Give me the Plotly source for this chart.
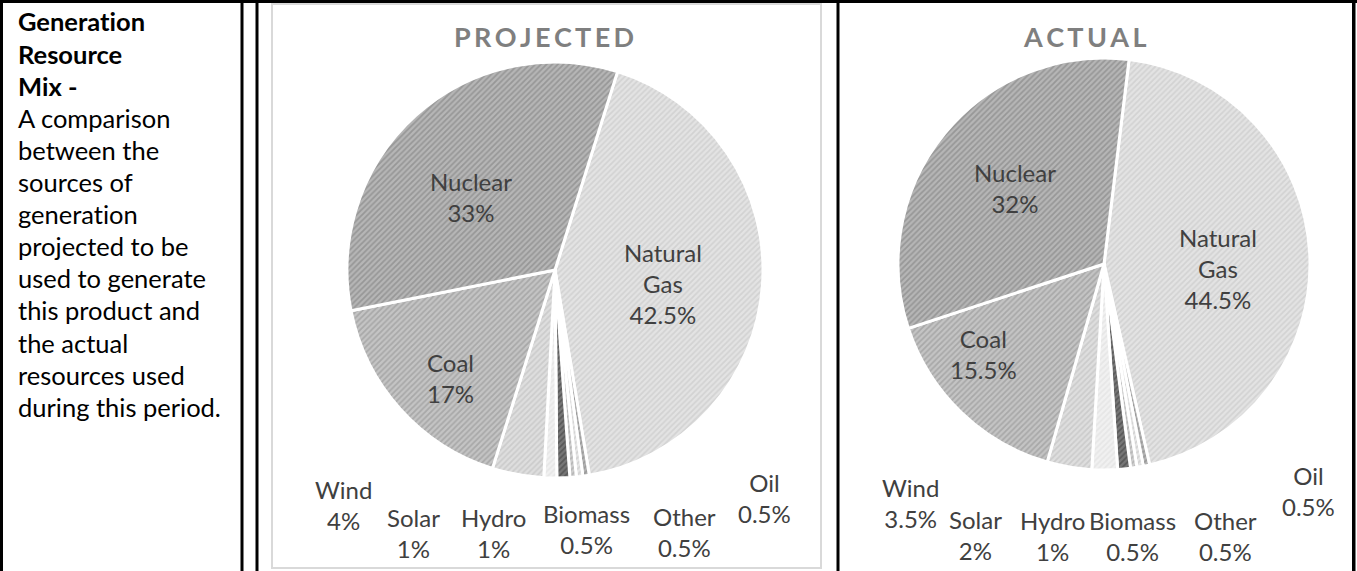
import plotly.graph_objects as go

W, H = 1357, 571

# ---------------- data ----------------
categories = ["Natural Gas", "Oil", "Other", "Biomass", "Hydro", "Solar", "Wind", "Coal", "Nuclear"]
projected_pct = [42.5, 0.5, 0.5, 0.5, 1, 1, 4, 17, 33]
actual_pct = [44.5, 0.5, 0.5, 0.5, 1, 2, 3.5, 15.5, 32]

chart_titles = ["PROJECTED", "ACTUAL"]
side_heading = ["Generation", "Resource", "Mix -"]
side_body = ["A comparison", "between the", "sources of", "generation", "projected to be",
             "used to generate", "this product and", "the actual", "resources used",
             "during this period."]

# ---------------- styling ----------------
fill_bg = ["#e3e3e3", "#b4b4b4", "#e6e6e6", "#cfcfcf", "#777777", "#f1f1f1", "#dedede", "#c4c4c4", "#b6b6b6"]
fill_fg = ["#c2c2c2", "#7d7d7d", "#bdbdbd", "#9a9a9a", "#3a3a3a", "#dcdcdc", "#b8b8b8", "#8c8c8c", "#787878"]
label_color = "#404040"
FONT = "Lato"

# label block centres in pixels (layout only)
proj_label_pos = [(663, 283), (764, 498), (684, 532), (586, 529), (493, 533),
                  (413, 533), (343, 505), (450, 378), (471, 197)]
act_label_pos = [(1218, 268), (1308, 491), (1225, 536), (1132, 536), (1052, 536),
                 (975, 535), (910, 503), (983, 354), (1015, 188)]


def fx(x):
    return x / W


def fy(y):
    return 1 - y / H


def no_lig(s):
    return s.replace("ti", "t\u200ci")


def make_pie(values, box, rotation):
    left, right, top, bottom = box
    return go.Pie(
        labels=categories, values=values, sort=False, direction="clockwise",
        rotation=rotation,
        domain=dict(x=[fx(left), fx(right)], y=[fy(bottom), fy(top)]),
        textinfo="none", hoverinfo="label+percent", showlegend=False,
        marker=dict(colors=fill_bg, line=dict(color="white", width=3),
                    pattern=dict(shape="/", fgcolor=fill_fg, fillmode="overlay",
                                 size=4, solidity=0.45)),
    )


fig = go.Figure()
fig.add_trace(make_pie(projected_pct, (347, 763, 62, 478), 17.5))
fig.add_trace(make_pie(actual_pct, (898, 1310, 58, 470), 7))

annotations = []


def fmt(v):
    return f"{v:g}%"


for values, positions in ((projected_pct, proj_label_pos), (actual_pct, act_label_pos)):
    for name, v, (px, py) in zip(categories, values, positions):
        annotations.append(dict(
            x=fx(px), y=fy(py), xref="paper", yref="paper", showarrow=False,
            xanchor="center", yanchor="middle", align="center",
            text=name.replace(" ", "<br>") + "<br>" + fmt(v),
            font=dict(family=FONT, size=24, color=label_color)))

# chart titles (letter spaced)
for t, cx in zip(chart_titles, (544, 1085)):
    annotations.append(dict(
        x=fx(cx), y=fy(36), xref="paper", yref="paper", showarrow=False,
        xanchor="center", yanchor="middle",
        text="<b>" + "\u200a\u200a".join(t) + "</b>",
        font=dict(family=FONT, size=27, color="#7f7f7f")))

# side text
side_lines = [("<b>" + no_lig(s) + "</b>") for s in side_heading] + [no_lig(s) for s in side_body]
for i, s in enumerate(side_lines):
    annotations.append(dict(
        x=fx(16), y=fy(21.5 + 32.1 * i), xref="paper", yref="paper", showarrow=False,
        xanchor="left", yanchor="middle", align="left", text=s,
        font=dict(family=FONT, size=25.5, color="#000000")))

shapes = []


def rect(x0, y0, x1, y1, fill):
    shapes.append(dict(type="rect", xref="paper", yref="paper",
                       x0=fx(x0), x1=fx(x1), y0=fy(y1), y1=fy(y0),
                       fillcolor=fill, line=dict(width=0), layer="above"))


# table borders
rect(0, 0, W, 3, "black")
rect(0, 0, 3, H, "black")
rect(240.5, 0, 243.5, H, "black")
rect(255.5, 0, 258.5, H, "black")
rect(836.5, 0, 839.5, H, "black")
rect(1352, 0, 1355.5, H, "black")
# projected chart frame
shapes.append(dict(type="rect", xref="paper", yref="paper",
                   x0=fx(272), x1=fx(821), y0=fy(568), y1=fy(4),
                   line=dict(color="#d9d9d9", width=2), fillcolor="rgba(0,0,0,0)"))

fig.update_layout(
    width=W, height=H, margin=dict(l=0, r=0, t=0, b=0),
    paper_bgcolor="white", plot_bgcolor="white",
    annotations=annotations, shapes=shapes, showlegend=False,
)

fig.write_html("out.html", config={"displayModeBar": False},
               post_script="document.body.style.margin='0px';document.body.style.overflow='hidden';")
